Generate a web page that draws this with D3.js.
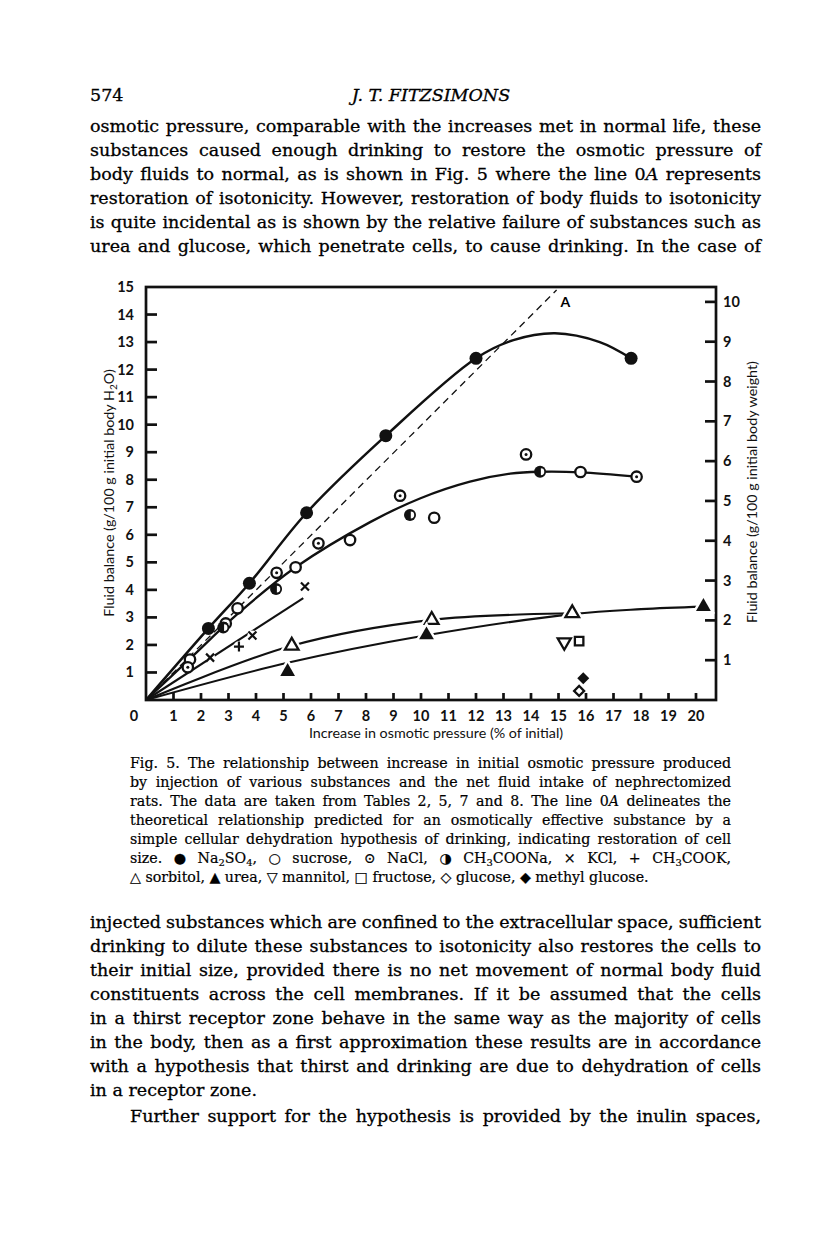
<!DOCTYPE html>
<html><head><meta charset="utf-8">
<script src="https://cdn.jsdelivr.net/npm/d3@7"></script>
<style>body{margin:0;background:#fff}svg{display:block}</style>
</head><body>
<script>
// ---------------- data ----------------
const xTicks = d3.range(0, 21);
const yLeftTicks = d3.range(1, 16);
const yRightTicks = d3.range(1, 11);
const waterFraction = 0.6916; // g H2O per g body weight (right axis conversion)

const na2so4X = [2.27, 3.76, 5.84, 8.72, 12.0, 17.64];
const na2so4Y = [2.60, 4.24, 6.80, 9.60, 12.41, 12.41];
const sucroseX = [1.6, 3.33, 5.44, 7.42, 10.48, 15.8];
const sucroseY = [1.47, 3.33, 4.82, 5.81, 6.62, 8.28];
const naclX = [1.52, 2.9, 4.75, 6.27, 9.24, 13.82, 17.84];
const naclY = [1.19, 2.78, 4.62, 5.69, 7.42, 8.92, 8.11];
const acetNaX = [2.81, 4.73, 9.6, 14.33];
const acetNaY = [2.63, 4.03, 6.72, 8.29];
const kclX = [2.33, 3.87, 5.78];
const kclY = [1.54, 2.34, 4.12];
const acetKX = [3.38];
const acetKY = [1.94];
const sorbitolX = [5.3, 10.39, 15.5];
const sorbitolY = [1.97, 2.91, 3.15];
const ureaX = [5.15, 10.2, 20.27];
const ureaY = [1.03, 2.36, 3.39];
const mannitolX = [15.21], mannitolY = [2.10];
const fructoseX = [15.75], fructoseY = [2.14];
const glucoseX = [15.75], glucoseY = [0.33];
const methylGlucoseX = [15.9], methylGlucoseY = [0.79];

// hand-drawn fitted curves
const curveNa2so4X = [0, 2.27, 3.76, 5.84, 8.72, 12.0, 13.36, 14.87, 16.5, 17.64];
const curveNa2so4Y = [0, 2.60, 4.24, 6.80, 9.60, 12.41, 13.07, 13.32, 13.0, 12.41];
const curveMidX = [0, 1.6, 3.3, 5.44, 8.15, 9.96, 11.78, 13.24, 14.33, 15.8, 17.84];
const curveMidY = [0, 1.5, 3.1, 4.82, 6.46, 7.32, 7.93, 8.22, 8.29, 8.27, 8.11];
const curveKclX = [0, 5.72];
const curveKclY = [0, 3.70];
const curveSorbX = [0, 5.3, 10.39, 15.5];
const curveSorbY = [0, 1.97, 2.91, 3.15];
const curveUreaX = [0, 5.15, 10.2, 15.5, 18.0, 20.27];
const curveUreaY = [0, 1.35, 2.35, 3.12, 3.30, 3.39];
const lineOAX = [0, 14.93];
const lineOAY = [0, 14.89];

const headerPage = "574";
const headerAuthor = "J. T. FITZSIMONS";
const topLines = [
  "osmotic pressure, comparable with the increases met in normal life, these",
  "substances caused enough drinking to restore the osmotic pressure of",
  "body fluids to normal, as is shown in Fig. 5 where the line 0<i>A</i> represents",
  "restoration of isotonicity. However, restoration of body fluids to isotonicity",
  "is quite incidental as is shown by the relative failure of substances such as",
  "urea and glucose, which penetrate cells, to cause drinking. In the case of"
];
const captionLines = [
  "Fig. 5. The relationship between increase in initial osmotic pressure produced",
  "by injection of various substances and the net fluid intake of nephrectomized",
  "rats. The data are taken from Tables 2, 5, 7 and 8. The line 0<i>A</i> delineates the",
  "theoretical relationship predicted for an osmotically effective substance by a",
  "simple cellular dehydration hypothesis of drinking, indicating restoration of cell",
  "size. \u25CF Na<sub>2</sub>SO<sub>4</sub>, \u25CB sucrose, \u2299 NaCl, \u25D1 CH<sub>3</sub>COONa, \u00D7 KCl, + CH<sub>3</sub>COOK,",
  "\u25B3 sorbitol, \u25B2 urea, \u25BD mannitol, \u25A1 fructose, \u25C7 glucose, \u25C6 methyl glucose."
];
const bottomLines = [
  "injected substances which are confined to the extracellular space, sufficient",
  "drinking to dilute these substances to isotonicity also restores the cells to",
  "their initial size, provided there is no net movement of normal body fluid",
  "constituents across the cell membranes. If it be assumed that the cells",
  "in a thirst receptor zone behave in the same way as the majority of cells",
  "in the body, then as a first approximation these results are in accordance",
  "with a hypothesis that thirst and drinking are due to dehydration of cells",
  "in a receptor zone.",
  "Further support for the hypothesis is provided by the inulin spaces,"
];
const xTitle = "Increase in osmotic pressure (% of initial)";
const yLeftTitle = "Fluid balance (g/100 g initial body H<sub>2</sub>O)";
const yRightTitle = "Fluid balance (g/100 g initial body weight)";
const lineOALabel = "A";

// ---------------- drawing ----------------
const W = 816, H = 1258;
const svg = d3.select("body").append("svg").attr("width", W).attr("height", H);
svg.append("rect").attr("width", W).attr("height", H).attr("fill", "#fff");

const SERIF = "'DejaVu Serif', 'Liberation Serif', serif";
const SANS = "Lato, 'Open Sans', sans-serif";
const BODY_FS = 17.5, CAP_FS = 14.2;

function rich(g, x, y, str) {
  const t = g.append("text").attr("x", x).attr("y", y);
  const parts = str.split(/(<i>.*?<\/i>|<sub>.*?<\/sub>)/).filter(s => s.length);
  let shifted = false;
  parts.forEach(p => {
    if (p.startsWith("<sub>")) {
      t.append("tspan").attr("font-size", "70%").attr("dy", shifted ? 0 : 3).text(p.slice(5, -6));
      shifted = true;
    } else if (p.startsWith("<i>")) {
      t.append("tspan").attr("font-style", "italic").attr("dy", shifted ? -3 : 0).text(p.slice(3, -4));
      shifted = false;
    } else {
      t.append("tspan").attr("dy", shifted ? -3 : 0).text(p);
      shifted = false;
    }
  });
  return t;
}
function justify(t, width) {
  const n = t.node();
  const w = n.getComputedTextLength();
  const spaces = (n.textContent.match(/ /g) || []).length;
  if (spaces > 0) t.attr("word-spacing", (width - w) / spaces);
}
const inkStyle = g => g.attr("fill", "#000").attr("stroke", "#000").attr("stroke-width", 0.3);

// header
const head = inkStyle(svg.append("g").attr("font-family", SERIF).attr("font-size", BODY_FS));
head.append("text").attr("x", 90).attr("y", 101).text(headerPage);
head.append("text").attr("x", 431).attr("y", 101).attr("text-anchor", "middle")
  .attr("font-style", "italic").text(headerAuthor);

const topG = inkStyle(svg.append("g").attr("font-family", SERIF).attr("font-size", BODY_FS));
topLines.forEach((s, i) => { const t = rich(topG, 90, 132 + i * 24, s); justify(t, 671); });

// chart
const x = d3.scaleLinear().domain([0, 20]).range([146, 696]);
const y = d3.scaleLinear().domain([0, 15]).range([700, 287]);
const yR = d3.scaleLinear().domain([0, 15 * waterFraction]).range([700, 287]);
const xRight = x(20) + 20;

const chart = svg.append("g");
const line = d3.line().x(d => x(d[0])).y(d => y(d[1])).curve(d3.curveCatmullRom.alpha(0.5));
const zip = (a, b) => a.map((v, i) => [v, b[i]]);

// dashed 0A
chart.append("path").attr("d", d3.line().x(d => x(d[0])).y(d => y(d[1]))(zip(lineOAX, lineOAY)))
  .attr("fill", "none").attr("stroke", "#111").attr("stroke-width", 1.3).attr("stroke-dasharray", "7,5");
chart.append("text").attr("x", x(lineOAX[1]) + 4).attr("y", y(lineOAY[1]) + 17)
  .attr("font-family", SANS).attr("font-size", 14).attr("font-weight", 700).text(lineOALabel);

// curves
[[curveNa2so4X, curveNa2so4Y, 2.5], [curveMidX, curveMidY, 2.3], [curveKclX, curveKclY, 2.1],
 [curveSorbX, curveSorbY, 2.1], [curveUreaX, curveUreaY, 2.1]].forEach(([cx, cy, sw]) => {
  chart.append("path").attr("d", line(zip(cx, cy))).attr("fill", "none")
    .attr("stroke", "#111").attr("stroke-width", sw);
});

// frame & ticks
const frame = svg.append("g").attr("stroke", "#111").attr("stroke-width", 2.7).attr("fill", "none");
frame.append("rect").attr("x", x(0)).attr("y", y(15)).attr("width", xRight - x(0)).attr("height", y(0) - y(15));
yLeftTicks.filter(v => v < 15).forEach(v => frame.append("line").attr("x1", x(0)).attr("x2", x(0) + 11).attr("y1", y(v)).attr("y2", y(v)));
yRightTicks.forEach(v => frame.append("line").attr("x1", xRight).attr("x2", xRight - 11).attr("y1", yR(v)).attr("y2", yR(v)));
xTicks.filter(v => v > 0).forEach(v => frame.append("line").attr("x1", x(v)).attr("x2", x(v)).attr("y1", y(0)).attr("y2", y(0) - 7));

const lab = svg.append("g").attr("font-family", SANS).attr("font-size", 14.5).attr("font-weight", 700).attr("fill", "#111");
yLeftTicks.forEach(v => lab.append("text").attr("x", x(0) - 12).attr("y", y(v) + 5).attr("text-anchor", "end").text(v));
yRightTicks.forEach(v => lab.append("text").attr("x", xRight + 7).attr("y", yR(v) + 5).text(v));
xTicks.forEach(v => lab.append("text").attr("x", v === 0 ? x(0) - 12 : x(v)).attr("y", y(0) + 21).attr("text-anchor", "middle").text(v));

const titles = svg.append("g").attr("font-family", SANS).attr("font-size", 14.3).attr("fill", "#111");
titles.append("text").attr("x", 436).attr("y", 738).attr("text-anchor", "middle").text(xTitle);
const lt = rich(titles.append("g").attr("transform", "translate(114,493) rotate(-90)"), 0, 0, yLeftTitle);
lt.attr("text-anchor", "middle");
titles.append("text").attr("transform", "translate(757,492) rotate(-90)").attr("text-anchor", "middle").text(yRightTitle);

// markers
const mk = svg.append("g");
const pts = (xs, ys) => zip(xs, ys).map(d => [x(d[0]), y(d[1])]);
const tri = d3.symbol().type(d3.symbolTriangle);
const sq = d3.symbol().type(d3.symbolSquare);

pts(na2so4X, na2so4Y).forEach(([px, py]) => mk.append("circle").attr("cx", px).attr("cy", py).attr("r", 6.5).attr("fill", "#111"));
pts(sucroseX, sucroseY).forEach(([px, py]) => mk.append("circle").attr("cx", px).attr("cy", py).attr("r", 5.2).attr("fill", "#fff").attr("stroke", "#111").attr("stroke-width", 2.3));
pts(naclX, naclY).forEach(([px, py]) => {
  mk.append("circle").attr("cx", px).attr("cy", py).attr("r", 5.2).attr("fill", "#fff").attr("stroke", "#111").attr("stroke-width", 2.3);
  mk.append("circle").attr("cx", px).attr("cy", py).attr("r", 1.5).attr("fill", "#111");
});
pts(acetNaX, acetNaY).forEach(([px, py]) => {
  mk.append("circle").attr("cx", px).attr("cy", py).attr("r", 6).attr("fill", "#111");
  mk.append("path").attr("transform", `translate(${px + 0.8},${py})`).attr("d", "M0,-3.4A3.4,3.4 0 0,1 0,3.4Z").attr("fill", "#fff");
});
pts(kclX, kclY).forEach(([px, py]) => {
  mk.append("circle").attr("cx", px).attr("cy", py).attr("r", 5).attr("fill", "#fff");
  mk.append("path").attr("transform", `translate(${px},${py})`).attr("d", "M-4,-4L4,4M-4,4L4,-4").attr("stroke", "#111").attr("stroke-width", 2.2);
});
pts(acetKX, acetKY).forEach(([px, py]) => {
  mk.append("circle").attr("cx", px).attr("cy", py).attr("r", 5.5).attr("fill", "#fff");
  mk.append("path").attr("transform", `translate(${px},${py})`).attr("d", "M-5,0L5,0M0,-5L0,5").attr("stroke", "#111").attr("stroke-width", 2.2);
});
pts(sorbitolX, sorbitolY).forEach(([px, py]) => {
  mk.append("path").attr("transform", `translate(${px},${py})`).attr("d", tri.size(80)()).attr("fill", "#fff").attr("stroke", "#fff").attr("stroke-width", 7);
  mk.append("path").attr("transform", `translate(${px},${py})`).attr("d", tri.size(80)()).attr("fill", "#fff").attr("stroke", "#111").attr("stroke-width", 2.3);
});
pts(ureaX, ureaY).forEach(([px, py]) => {
  mk.append("path").attr("transform", `translate(${px},${py})`).attr("d", tri.size(95)()).attr("fill", "#fff").attr("stroke", "#fff").attr("stroke-width", 5);
  mk.append("path").attr("transform", `translate(${px},${py})`).attr("d", tri.size(95)()).attr("fill", "#111");
});
pts(mannitolX, mannitolY).forEach(([px, py]) => mk.append("path").attr("transform", `translate(${px},${py}) rotate(180)`).attr("d", tri.size(75)()).attr("fill", "#fff").attr("stroke", "#111").attr("stroke-width", 2.3));
pts(fructoseX, fructoseY).forEach(([px, py]) => mk.append("path").attr("transform", `translate(${px},${py})`).attr("d", sq.size(72)()).attr("fill", "#fff").attr("stroke", "#111").attr("stroke-width", 2.3));
pts(glucoseX, glucoseY).forEach(([px, py]) => mk.append("path").attr("transform", `translate(${px},${py}) rotate(45)`).attr("d", sq.size(50)()).attr("fill", "#fff").attr("stroke", "#111").attr("stroke-width", 2.3));
pts(methylGlucoseX, methylGlucoseY).forEach(([px, py]) => mk.append("path").attr("transform", `translate(${px},${py}) rotate(45)`).attr("d", sq.size(72)()).attr("fill", "#111"));

// caption
const capG = inkStyle(svg.append("g").attr("font-family", SERIF).attr("font-size", CAP_FS)).attr("stroke-width", 0.2);
captionLines.forEach((s, i) => { const t = rich(capG, 130, 768 + i * 19, s); if (i < captionLines.length - 1) justify(t, 601); });

// bottom text
const botG = inkStyle(svg.append("g").attr("font-family", SERIF).attr("font-size", BODY_FS));
bottomLines.forEach((s, i) => {
  const last = i === bottomLines.length - 1;
  const t = rich(botG, last ? 130 : 90, 928 + i * 24 + (last ? 2 : 0), s);
  if (i !== 7) justify(t, last ? 631 : 671);
});
</script>
</body></html>
